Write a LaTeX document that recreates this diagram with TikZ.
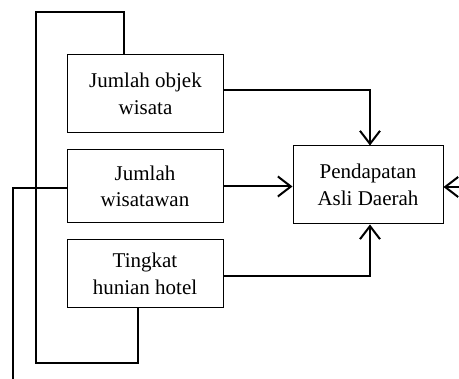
\documentclass[tikz,border=0pt]{standalone}
\usepackage{fontspec}
\setmainfont{Liberation Serif}
\usetikzlibrary{arrows.meta,positioning,calc}

\begin{document}
\begin{tikzpicture}[
      x=1pt, y=-1pt,
      font=\fontsize{21}{26.5}\selectfont,
      kotak/.style={draw=black, line width=1pt, align=center,
                    inner sep=0pt, minimum width=156pt},
      ln/.style={draw=black, line width=2pt},
      fl/.style={-{Straight Barb[length=13pt, width=20pt, line width=2pt]}, draw=black, line width=2pt}
    ]
    \useasboundingbox (0,0) rectangle (459,379);
    \node[kotak, minimum height=78pt] (objek) at (145.5,94) {Jumlah objek\\wisata};
    \node[kotak, minimum height=73pt] (wisatawan) at (145,186.5) {Jumlah\\wisatawan};
    \node[kotak, minimum height=68pt] (hotel) at (145,274) {Tingkat\\hunian hotel};
    \node[kotak, minimum width=150pt, minimum height=78pt] (pad) at (368,185) {Pendapatan\\Asli Daerah};
    % panah ke PAD
    \draw[fl] ([yshift=4pt]objek.east) -| ([xshift=2pt]pad.north);
    \draw[fl] (wisatawan.east) -- (wisatawan.east -| pad.west);
    \draw[fl] ([yshift=-2pt]hotel.east) -| ([xshift=2pt]pad.south);
    \coordinate (luar) at (459,187);
    \draw[fl] (luar) -- (luar -| pad.east);
    % garis umpan balik
    \coordinate (kiriatas) at (36,12);
    \coordinate (kiribawah) at (36,363);
    \draw[ln] ([xshift=-22pt]objek.north) |- (kiriatas) -- (kiribawah) -| ([xshift=-7pt]hotel.south);
    \coordinate (bawah) at (13,379);
    \draw[ln] (bawah) |- ([yshift=-1.5pt]wisatawan.west);
  \end{tikzpicture}
\end{document}
